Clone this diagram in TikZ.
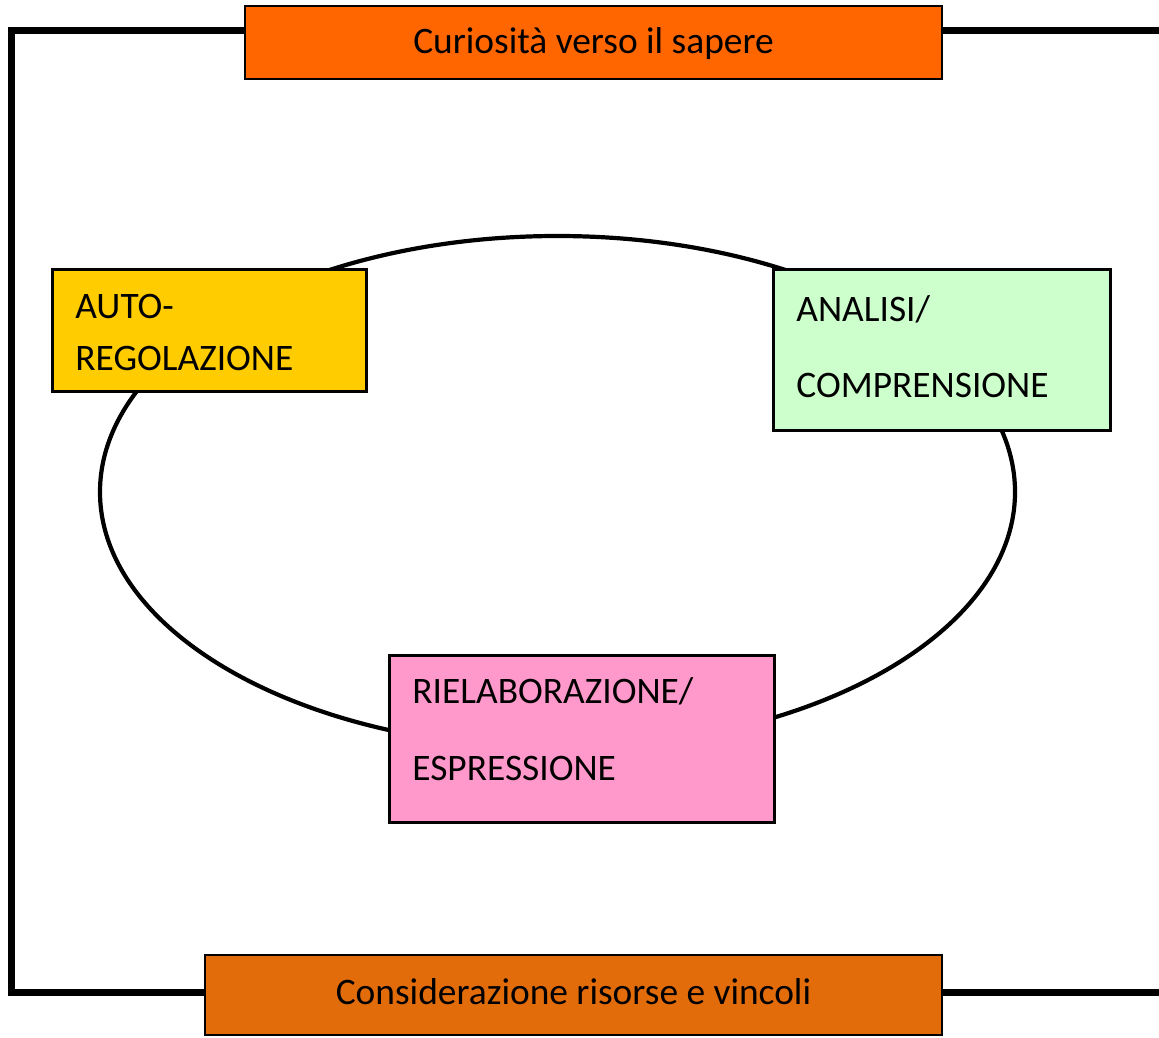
\documentclass[tikz,border=0pt]{standalone}
\usepackage{fontspec}
\setmainfont{Carlito}
\definecolor{toporange}{HTML}{FF6600}
\definecolor{botorange}{HTML}{E36C0A}
\definecolor{autoyellow}{HTML}{FFCC00}
\definecolor{anagreen}{HTML}{CCFFCC}
\definecolor{rielpink}{HTML}{FF99CC}
\begin{document}
\begin{tikzpicture}[x=0.5pt,y=-0.5pt,
  box/.style={draw=black,line width=1.5pt,inner sep=0pt,outer sep=0pt},
  bar/.style={draw=black,line width=1pt,inner sep=0pt,outer sep=0pt},
  lbl/.style={anchor=base west,inner sep=0pt,font=\fontsize{18.7pt}{22pt}\selectfont},
  clbl/.style={anchor=base,inner sep=0pt,font=\fontsize{18.7pt}{22pt}\selectfont},
  frame/.style={line width=3.6pt,line join=miter,line cap=butt}]
\useasboundingbox (0,0) rectangle (1159,1037);
% ellipse
\draw[line width=2.1pt] (557.5,492) ellipse [x radius=457.5, y radius=256];
% top and bottom bars
\node[bar,fill=toporange,minimum width=348.5pt,minimum height=36.5pt] (top) at (593.5,42.5) {};
\node[bar,fill=botorange,minimum width=368.5pt,minimum height=40pt] (bot) at (573.5,995) {};
\node[clbl] (toptxt) at (593.5,54) {Curiosità verso il sapere};
\node[clbl] (bottxt) at (573.5,1004) {Considerazione risorse e vincoli};
% frame
\coordinate (tl) at (11.5,30.5);
\coordinate (bl) at (11.5,992.5);
\coordinate (tr) at (1159,30.5);
\coordinate (br) at (1159,992.5);
\draw[frame] (top.west |- tl) -- (tl) -- (bl) -- (bot.west |- bl);
\draw[frame] (top.east |- tr) -- (tr);
\draw[frame] (bot.east |- br) -- (br);
% boxes
\node[box,fill=autoyellow,minimum width=157pt,minimum height=60.5pt] (auto) at (209,330.5) {};
\node[lbl] (autoa) at (75,318) {AUTO-};
\node[lbl] (autob) at (75,370) {REGOLAZIONE};
\node[box,fill=anagreen,minimum width=168.5pt,minimum height=80pt] (ana) at (941.5,350) {};
\node[lbl] (anaa) at (796,321) {ANALISI/};
\node[lbl] (anab) at (796,397.5) {COMPRENSIONE};
\node[box,fill=rielpink,minimum width=192.5pt,minimum height=83.5pt] (riel) at (581.5,738.5) {};
\node[lbl] (riela) at (412,703) {RIELABORAZIONE/};
\node[lbl] (rielb) at (412,780) {ESPRESSIONE};
\end{tikzpicture}
\end{document}
